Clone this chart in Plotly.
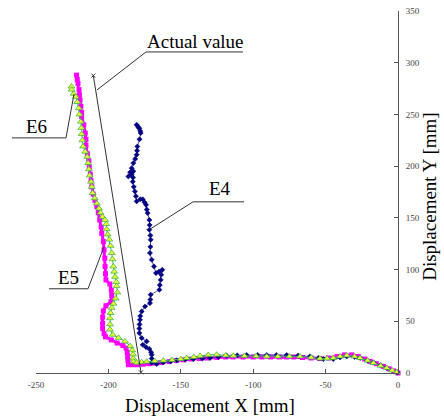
import plotly.graph_objects as go

# ---------------- data ----------------
e5_x = [-222, -221.5, -221, -220.3, -220, -219.6, -219, -218.5, -218.5, -217, -216, -215.5, -215.5,
        -214.5, -213.5, -213.2, -212.5, -212, -211.5, -210.5, -209.3, -208, -207, -206, -205, -204.6,
        -203.5, -203, -202.5, -202.3, -202, -201.7, -199, -198, -197.7, -198.2, -201.7, -203.5, -204,
        -204, -204, -203, -202, -198, -194, -190, -187.8, -187, -186.7, -186.5, -186.2, -183, -180,
        -176, -172, -168, -164, -158, -153, -148.5, -143, -137, -132, -125, -119, -113.9, -107, -100,
        -94, -88, -82, -77, -72, -66, -60, -54, -48, -42, -37, -32, -27.4, -23, -19.3, -15, -10, -6,
        -3, 0]
e5_y = [288, 284, 280, 274, 269, 264, 258, 252, 248, 240, 232, 226, 220,
        212, 205, 199, 192, 186, 180, 173, 167, 161, 155, 148, 141, 135,
        127, 119, 111, 103, 96, 90, 86, 80, 75, 69, 65, 60, 54,
        48, 43, 38, 35, 32, 29, 26.5, 24, 20, 16, 12, 8, 8, 8,
        8.5, 9, 9.5, 10, 11, 12, 12.8, 13.5, 14, 14.5, 15, 15.5, 15.5, 15.5, 15.5,
        15.5, 15.5, 15.5, 15.5, 15.5, 15, 14.5, 14, 14.5, 16, 17.5, 17.5, 16, 13.5, 11.2, 9, 6.4, 4,
        2, 0]

e6_x = [-225.5, -225.4, -224, -222.5, -221.5, -220.5, -220, -219, -218.7, -218.5, -218, -217.5,
        -216, -214.6, -214, -213.5, -213, -212, -211.5, -210.9, -209.5, -208, -206.5, -205.5, -204,
        -202.3, -201.5, -201.2, -200.5, -199.4, -198.5, -197.7, -197.2, -196.6, -196, -195.4, -194.5,
        -194.3, -193.8, -195, -196.5, -197.7, -198.5, -198.9, -198.9, -198.9, -197, -193, -188.5,
        -185, -183.5, -183, -182.8, -182.5, -180.5, -177, -173.6, -168, -162, -156, -150, -146, -141,
        -136.7, -131, -125.2, -119, -113.7, -106, -98, -90.7, -83, -75, -67.7, -60, -53.9, -49, -44.7,
        -40, -35.4, -30, -26.2, -21, -17, -12, -7.8, -4, -0.9]
e6_y = [277, 274, 270, 267, 262, 256, 250, 243, 237, 231, 225, 219,
        214, 209, 203, 197, 191, 185, 180, 174, 169, 164, 159, 155, 151,
        148, 144, 139, 134, 129, 123, 116, 110, 103, 98, 93, 88,
        84, 78, 72, 67, 63, 58, 53, 47, 42, 37, 34, 30.5,
        26, 22, 18, 14, 11, 10, 10.5, 11, 11.5, 12, 12.5, 13.5, 14.5, 15.5,
        16.5, 17.5, 17.7, 17, 16.7, 16.5, 16.3, 16, 16, 16, 16, 15, 14, 14, 14.5,
        16, 17, 16, 14.5, 12, 9.7, 7, 4.8, 2.5, 0.6]

e4_x = [-180.5, -179.5, -178.6, -178, -177.7, -178.5, -180, -180.2, -180.5, -181.5, -182.8, -183.9,
        -185, -186.2, -184, -182.8, -183, -183.2, -182.5, -181.7, -181, -180.5, -178, -176.3, -175,
        -174, -173.5, -172.9, -171.7, -171.5, -171.7, -171, -170.8, -171, -171.3, -170.1, -168.5,
        -167.1, -165, -162.8, -163.5, -163.9, -164.5, -164.8, -170.8, -171, -171.3, -174.7, -177,
        -178, -178.2, -178.5, -178.6, -178.6, -177, -173.6, -176.3, -174, -171.7, -170.5, -170.1,
        -170.1, -170.1, -166.7, -162, -157, -152.8, -147, -141.3, -135, -129.8, -124, -118.3, -111,
        -104.5, -97, -90.7, -84, -76.9, -69, -60.8, -55, -51.6, -44.7, -40, -35.4, -30, -26.2, -21,
        -17, -12, -7.8, -0.5]
e4_y = [240, 238, 236.5, 234, 232, 226, 219, 215, 211, 207, 203, 198,
        194, 190, 192, 195, 189, 185, 180, 175.6, 171, 166, 168, 168, 165,
        162.6, 158, 154.6, 148, 143, 138.5, 133, 128.8, 122, 116, 109.5, 103,
        96.6, 98, 99.8, 95, 90, 85, 80.5, 75.7, 71, 67.6, 64.3, 59.5,
        55, 51.5, 47, 43, 38.6, 33.8, 30.5, 27.3, 25, 23.2, 20, 17.7,
        14, 9.7, 8.7, 10.2, 11.2, 12.2, 12.8, 13.5, 14, 14.5, 15.5, 16.7, 17,
        17.4, 17.4, 17.4, 17.4, 17.4, 16.8, 16, 14.5, 13.5, 13.5, 15, 16, 15.5, 14.5, 12,
        10.2, 7.5, 4.8, 0.6]

actual_x = [-210.4, -177.5]
actual_y = [287.5, 0.6]

x_ticks = [-250, -200, -150, -100, -50, 0]
y_ticks = [0, 50, 100, 150, 200, 250, 300, 350]

# ---------------- layout geometry ----------------
# The page body margin is removed in a post script, so the figure fills the window.
W, H = 444, 418
PX0, PX1, PY0, PY1 = 36, 398, 11, 373.3       # plot area in window pixels
L, R = PX0, W - PX1
T, B = PY0, H - PY1
PW, PH = PX1 - PX0, PY1 - PY0


def P(px, py):
    """window pixel position -> paper coords"""
    return (px - PX0) / PW, (PY1 - py) / PH


FONT = "Liberation Serif, Times New Roman, serif"

fig = go.Figure()

fig.add_trace(go.Scatter(
    x=e5_x, y=e5_y, mode="lines+markers", name="E5", cliponaxis=False,
    line=dict(color="#FF00FF", width=3),
    marker=dict(symbol="square", size=5, color="#FF00FF", line=dict(width=0))))

fig.add_trace(go.Scatter(
    x=e4_x, y=e4_y, mode="lines+markers", name="E4", cliponaxis=False,
    line=dict(color="#2a2a9c", width=0.8),
    marker=dict(symbol="diamond", size=4, color="#000080", line=dict(width=0.5, color="#000080"))))

fig.add_trace(go.Scatter(
    x=e6_x, y=e6_y, mode="lines+markers", name="E6", cliponaxis=False,
    line=dict(color="#3CB371", width=1),
    marker=dict(symbol="triangle-up", size=6, color="#E6FF33", line=dict(width=0.7, color="#33AA44"))))

fig.add_trace(go.Scatter(
    x=actual_x, y=actual_y, mode="lines+markers", name="Actual value", cliponaxis=False,
    line=dict(color="#333333", width=1),
    marker=dict(symbol="x-thin", size=4, line=dict(width=1, color="#333333"))))

# leader lines (window pixel positions converted to paper)
leaders = [
    [(243, 52), (146, 52), (97, 90)],      # Actual value
    [(12, 138), (66, 138), (74, 94)],      # E6
    [(244, 202), (193, 202), (149, 230)],  # E4
    [(49, 289), (88, 289), (104, 247)],    # E5
]
shapes = []
for pts in leaders:
    for (a, b) in zip(pts[:-1], pts[1:]):
        x0, y0 = P(*a)
        x1, y1 = P(*b)
        shapes.append(dict(type="line", xref="paper", yref="paper", x0=x0, y0=y0, x1=x1, y1=y1,
                           line=dict(color="#333333", width=1)))

labels = [("Actual value", 195, 42), ("E6", 36.5, 127), ("E4", 220, 189), ("E5", 68.5, 277.5)]
annotations = []
for txt, px, py in labels:
    ax, ay = P(px, py)
    annotations.append(dict(text=txt, x=ax, y=ay, xref="paper", yref="paper", showarrow=False,
                            xanchor="center", yanchor="middle",
                            font=dict(family=FONT, size=19, color="#000000")))

# axis titles
tx, ty = P(209.5, 406)
annotations.append(dict(text="Displacement X [mm]", x=tx, y=ty, xref="paper", yref="paper",
                        showarrow=False, xanchor="center", yanchor="middle",
                        font=dict(family=FONT, size=19, color="#000000")))
tx, ty = P(430, 197)
annotations.append(dict(text="Displacement Y [mm]", x=tx, y=ty, xref="paper", yref="paper",
                        showarrow=False, xanchor="center", yanchor="middle", textangle=-90,
                        font=dict(family=FONT, size=19, color="#000000")))

fig.update_layout(
    width=W, height=H,
    margin=dict(l=L, r=R, t=T, b=B, pad=0, autoexpand=False),
    paper_bgcolor="white", plot_bgcolor="white",
    showlegend=False,
    hovermode=False,
    shapes=shapes,
    annotations=annotations,
    xaxis=dict(range=[-250, 0], tickvals=x_ticks, ticktext=[str(v) for v in x_ticks],
               showgrid=False, zeroline=False, showline=True, linecolor="#555555", linewidth=1,
               ticks="inside", ticklen=4, tickcolor="#555555", ticklabelstandoff=3,
               ticklabeloverflow="allow",
               tickfont=dict(family=FONT, size=9, color="#444444")),
    yaxis=dict(range=[0, 350], tickvals=y_ticks, side="right",
               showgrid=False, zeroline=False, showline=True, linecolor="#555555", linewidth=1,
               ticks="inside", ticklen=4, tickcolor="#555555", ticklabelstandoff=5,
               ticklabeloverflow="allow",
               tickfont=dict(family=FONT, size=9, color="#444444")),
)

fig.write_html(
    "out.html",
    config={"displayModeBar": False, "staticPlot": True},
    post_script="document.body.style.margin='0px';document.body.style.overflow='hidden';",
)
